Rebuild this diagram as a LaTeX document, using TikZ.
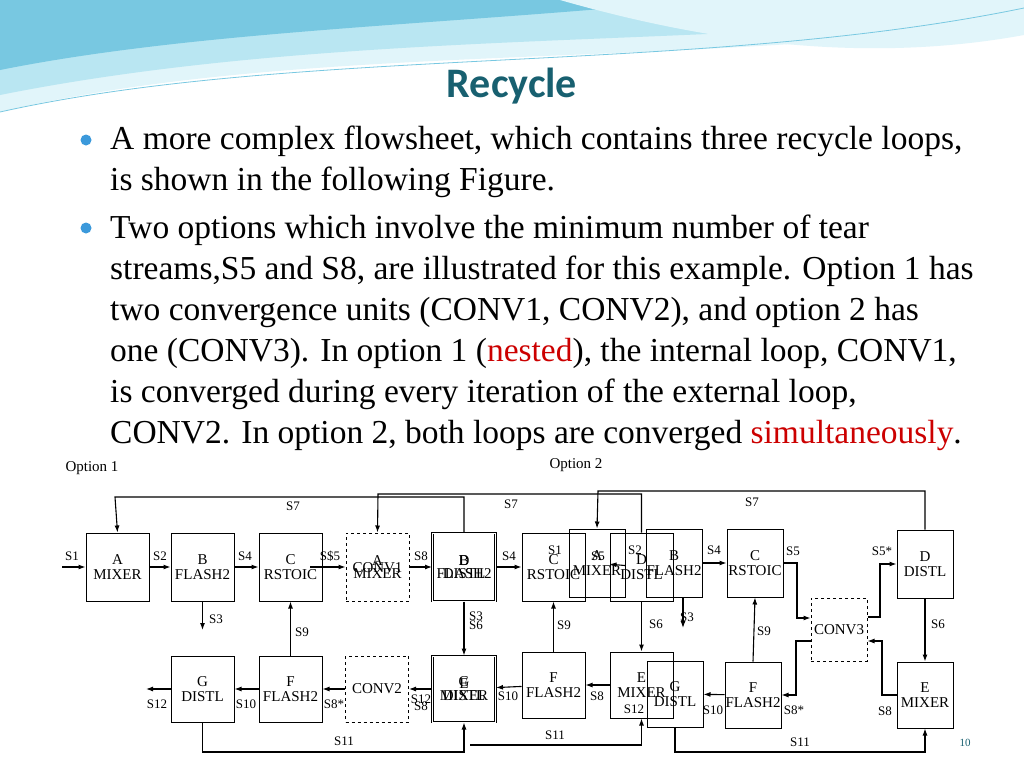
\documentclass[tikz,border=0pt]{standalone}
\usepackage{fontspec}
\setmainfont{Liberation Serif}
\newfontfamily\titlefont{Carlito}
\usetikzlibrary{arrows.meta,positioning}
\definecolor{ttl}{RGB}{24,96,112}
\definecolor{wv1}{RGB}{120,200,225}
\definecolor{wv2}{RGB}{185,230,242}
\definecolor{wv3}{RGB}{225,245,250}
\begin{document}
\begin{tikzpicture}[x=1pt,y=-1pt,
 ub/.style={draw,line width=1pt,minimum width=63pt,minimum height=68pt,align=center,inner sep=0pt,font=\fontsize{15}{15}\selectfont},
 lb/.style={font=\fontsize{13}{12}\selectfont,inner sep=1pt,align=center},
 fl/.style={-{Latex[length=7pt,width=5pt]},line width=1.1pt},
 btxt/.style={anchor=base west,font=\fontsize{33.5}{33.5}\selectfont,inner sep=0pt}]
\useasboundingbox (0,0) rectangle (1024,768);
\fill[white] (0,0) rectangle (1024,768);
% header waves
\fill[wv3] (0,0) -- (1024,0) -- (1024,20) .. controls (700,70) and (300,40) .. (0,112) -- cycle;
\fill[wv2] (0,0) -- (1024,0) -- (1024,8) .. controls (750,50) and (350,25) .. (0,95) -- cycle;
\fill[wv1] (0,0) -- (700,0) .. controls (450,25) and (200,30) .. (0,70) -- cycle;
\fill[wv3] (560,0) -- (1024,0) -- (1024,35) .. controls (860,65) and (700,40) .. (560,0) -- cycle;
\draw[wv1,line width=0.8pt] (0,112) .. controls (300,45) and (700,75) .. (1024,8);
\node[font=\titlefont\bfseries\fontsize{42}{42}\selectfont,text=ttl] (title) at (512,86) {Recycle};
% bullets
\foreach \y in {140,228} \fill[cyan!70!blue!80] (86,\y) circle (5.5pt);
\node[btxt] (t1) at (110,149) {A more complex flowsheet, which contains three recycle loops,};
\node[btxt] (t2) at (110,190) {is shown in the following Figure.};
\node[btxt] (t3) at (110,238) {Two options which involve the minimum number of tear};
\node[btxt] (t4) at (110,279) {streams,S5 and S8, are illustrated for this example. Option 1 has};
\node[btxt] (t5) at (110,320) {two convergence units (CONV1, CONV2), and option 2 has};
\node[btxt] (t6) at (110,361) {one (CONV3). In option 1 (\textcolor{red!80!black}{nested}), the internal loop, CONV1,};
\node[btxt] (t7) at (110,402) {is converged during every iteration of the external loop,};
\node[btxt] (t8) at (110,443) {CONV2. In option 2, both loops are converged \textcolor{red!80!black}{simultaneously}.};
\node[lb,font=\fontsize{15}{15}\selectfont] (o1) at (92,468) {Option 1};
\node[lb,font=\fontsize{15}{15}\selectfont] (o2) at (576,465) {Option 2};
% top row
\node[ub] (a1) at (117.5,567) {A\\MIXER};
\node[ub] (b1) at (202.5,567) {B\\FLASH2};
\node[ub] (c1) at (290.5,567) {C\\RSTOIC};
\node[ub,dashed] (cv1) at (377.5,567) {A\\[-8pt]CONV1\\[-9pt]MIXER};
\node[ub,double] (bd) at (464,567) {B\\[-15pt]D\\[-2pt]FLASH2\\[-15pt]DISTL};
\node[ub] (c2) at (553.5,567) {C\\RSTOIC};
\node[ub,minimum width=56pt] (a2) at (597,563) {A\\MIXER};
\node[ub] (d2) at (641.5,567) {D\\DISTL};
\node[ub,minimum width=56pt] (b2) at (674,563) {B\\FLASH2};
\node[ub,minimum width=56pt] (cc2) at (755,563) {C\\RSTOIC};
\node[ub,minimum width=56pt] (dd2) at (925,564) {D\\DISTL};
% bottom row
\node[ub,minimum height=66pt] (g1) at (202.5,689) {G\\DISTL};
\node[ub,minimum height=66pt] (f1) at (290.5,689) {F\\FLASH2};
\node[ub,minimum height=66pt,dashed] (cv2) at (377,689) {CONV2};
\node[ub,minimum height=66pt,double] (ge) at (464,689) {G\\[-13pt]E\\[-3pt]DISTL\\[-15pt]MIXER};
\node[ub,minimum height=66pt] (f1b) at (553.5,685) {F\\FLASH2};
\node[ub,minimum height=66pt] (e2) at (641.5,685) {E\\MIXER};
\node[ub,minimum height=66pt,minimum width=56pt] (g2) at (675,694) {G\\DISTL};
\node[ub,minimum height=66pt,minimum width=56pt] (ff2) at (753,695) {F\\FLASH2};
\node[ub,minimum height=66pt,minimum width=56pt] (ee2) at (925,695) {E\\MIXER};
\node[ub,dashed,minimum width=56pt,minimum height=63pt] (cv3) at (839,629.5) {CONV3};
% option 1 streams
\coordinate (s1) at (62,567);
\draw[fl] (s1) -- (a1); \node[lb] at (72,556) {S1};
\draw[fl] (a1) -- (b1); \node[lb] at (160,556) {S2};
\draw[fl] (b1) -- (c1); \node[lb] at (245,556) {S4};
\draw[fl] (310,567) -- (cv1); \node[lb] at (330,556) {S\$5};
\draw[fl] (cv1) -- (bd); \node[lb] at (421,556) {S8};
\draw[fl] (bd) -- (c2); \node[lb] at (509,556) {S4};
\coordinate (s3e) at (202.5,630);
\draw[fl] (b1.south) -- (s3e); \node[lb] at (216,619) {S3};
\draw[fl] (f1.north) -- (c1.south); \node[lb] at (302,632) {S9};
\draw[fl] (bd.south) -- (ge.north); \node[lb] at (476,621) {S3\\[-3pt]S6};
\draw[fl] (cv2) -- (f1); \node[lb] at (334,704) {S8*};
\draw[fl] (f1) -- (g1); \node[lb] at (246,704) {S10};
\coordinate (s12e) at (146,689);
\draw[fl] (g1) -- (s12e); \node[lb] at (157,704) {S12};
\draw[fl] (ge) -- (cv2); \node[lb] at (421,703) {S12\\[-5pt]S8};
\draw[fl] (f1b) -- (ge); \node[lb] at (508,696) {S10};
\draw[fl] (e2) -- (f1b); \node[lb] at (597,696) {S8};
\draw[fl] (f1b.north) -- (c2.south); \node[lb] at (564,625) {S9};
\draw[fl] (bd.north) -- (464,497) -- (115,497) -- (a1.north); \node[lb] at (293,506) {S7};
\draw[fl] (d2.north) -- (641.5,494) -- (378,494) -- (cv1.north); \node[lb] at (511,504) {S7};
\draw[fl] (g1.south) -- (202.5,752) -- (464,752) -- (ge.south); \node[lb] at (344,741) {S11};
\draw[fl] (470,745) -- (641.5,745) -- (e2.south); \node[lb] at (555,735) {S11};
% option 2 streams
\draw[fl] (a2) -- (d2); \node[lb] at (635,550) {S2};
\node[lb] at (555,550) {S1}; \node[lb] at (598,556) {S5};
\draw[fl] (b2) -- (cc2); \node[lb] at (714,550) {S4};
\draw[fl] (d2.south) -- (e2.north); \node[lb] at (656,624) {S6};
\coordinate (s3b) at (683,628);
\draw[fl] (683,597) -- (s3b); \node[lb] at (687,617) {S3};
\draw[fl] (cc2.east) -- (797,563) -- (797,618) -- (cv3.west |- 0,618); \node[lb] at (793,551) {S5};
\draw[fl] (cv3.east |- 0,617) -- (880,617) -- (880,564) -- (dd2.west); \node[lb] at (882,551) {S5*};
\draw[fl] (dd2.south) -- (ee2.north); \node[lb] at (938,624) {S6};
\draw[fl] (ee2.west) -- (882,695) -- (882,641) -- (cv3.east |- 0,641); \node[lb] at (885,711) {S8};
\draw[fl] (cv3.west |- 0,641) -- (796,641) -- (796,695) -- (ff2.east); \node[lb] at (794,710) {S8*};
\draw[fl] (ff2) -- (g2); \node[lb] at (713,710) {S10};
\draw[fl] (ff2.north) -- (cc2.south); \node[lb] at (764,631) {S9};
\draw[fl] (dd2.north) -- (925,491) -- (598,491) -- (a2.north); \node[lb] at (752,502) {S7};
\draw[fl] (g2.south) -- (675,752) -- (925,752) -- (ee2.south); \node[lb] at (800,742) {S11};
\node[lb] at (634,709) {S12};
\node[font=\fontsize{11}{11}\selectfont,text=ttl] (pg) at (965,743) {10};
\end{tikzpicture}
\end{document}
